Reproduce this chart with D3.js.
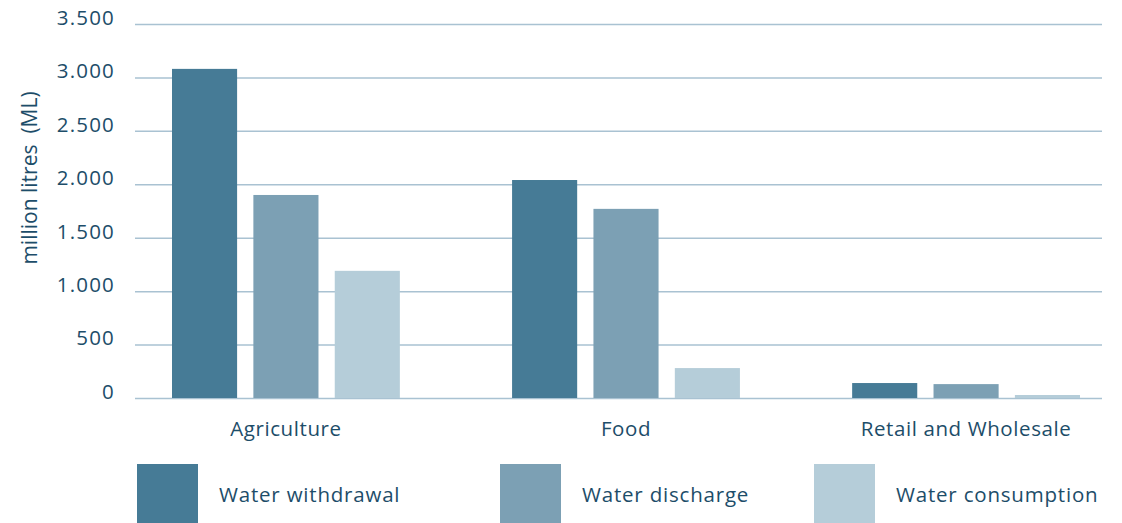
<!DOCTYPE html>
<html>
<head>
<meta charset="utf-8">
<script src="https://cdn.jsdelivr.net/npm/d3@7"></script>
<style>
  html, body { margin: 0; padding: 0; background: #fff; }
  svg { display: block; }
  text { font-family: "Open Sans", "Noto Sans", sans-serif; fill: #1d4d69; }
</style>
</head>
<body>
<svg id="chart" width="1122" height="523"></svg>
<script>
// Water use by sector, million litres
const categories = ["Agriculture", "Food", "Retail and Wholesale"];
const seriesNames = ["Water withdrawal", "Water discharge", "Water consumption"];
const withdrawal = [3080, 2040, 140];
const discharge = [1900, 1770, 130];
const consumption = [1190, 280, 28];
const yTicks = [0, 500, 1000, 1500, 2000, 2500, 3000, 3500];
const yTickLabels = ["0", "500", "1.000", "1.500", "2.000", "2.500", "3.000", "3.500"];

const seriesValues = [withdrawal, discharge, consumption];
const colors = ["#467b96", "#7ca0b4", "#b5cdd9"];

const svg = d3.select("#chart");

const gridLeft = 135, gridRight = 1102;
const y = d3.scaleLinear().domain([0, 3500]).range([398, 24]);

const x0 = d3.scaleBand().domain(categories).range([172, 1080]).paddingInner(0.33).paddingOuter(0);
const x1 = d3.scaleBand().domain(seriesNames).range([0, x0.bandwidth()]).paddingInner(0.2).paddingOuter(0);
const color = d3.scaleOrdinal().domain(seriesNames).range(colors);

// Horizontal gridlines with tick labels sitting on them
const yAxis = d3.axisLeft(y)
  .tickValues(yTicks)
  .tickFormat((d, i) => yTickLabels[i])
  .tickSize(-(gridRight - gridLeft))
  .tickPadding(20);

const gAxis = svg.append("g")
  .attr("transform", `translate(${gridLeft},0)`)
  .call(yAxis);
gAxis.select(".domain").remove();
gAxis.selectAll(".tick line")
  .attr("stroke", "#a9c2d2")
  .attr("stroke-width", 1.5);
gAxis.selectAll(".tick text")
  .attr("font-size", 20.5)
  .attr("letter-spacing", 1.2)
  .attr("fill", "#1d4d69")
  .attr("dy", "0.02em");

// Bars
const rows = categories.map((c, i) => ({
  category: c,
  values: seriesNames.map((s, j) => ({ series: s, value: seriesValues[j][i] }))
}));

const groups = svg.append("g").selectAll("g")
  .data(rows)
  .join("g")
  .attr("transform", d => `translate(${x0(d.category)},0)`);

groups.selectAll("rect")
  .data(d => d.values)
  .join("rect")
  .attr("x", d => x1(d.series))
  .attr("width", x1.bandwidth())
  .attr("y", d => y(d.value))
  .attr("height", d => y(0) - y(d.value))
  .attr("fill", d => color(d.series));

// Category labels
svg.append("g").selectAll("text")
  .data(categories)
  .join("text")
  .attr("x", d => x0(d) + x0.bandwidth() / 2)
  .attr("y", 436)
  .attr("text-anchor", "middle")
  .attr("font-size", 20.5)
  .attr("letter-spacing", 0.6)
  .text(d => d);

// Y-axis title
svg.append("text")
  .attr("transform", "translate(37,178) rotate(-90)")
  .attr("text-anchor", "middle")
  .attr("font-size", 21)
  .text("million litres\u00a0 (ML)");

// Legend
const legendX = [137, 500, 814];
const legend = svg.append("g").selectAll("g")
  .data(seriesNames)
  .join("g")
  .attr("transform", (d, i) => `translate(${legendX[i]},464)`);
legend.append("rect")
  .attr("width", 61)
  .attr("height", 59)
  .attr("fill", d => color(d));
legend.append("text")
  .attr("x", 82)
  .attr("y", 38)
  .attr("font-size", 20.5)
  .attr("letter-spacing", 0.8)
  .text(d => d);
</script>
</body>
</html>
